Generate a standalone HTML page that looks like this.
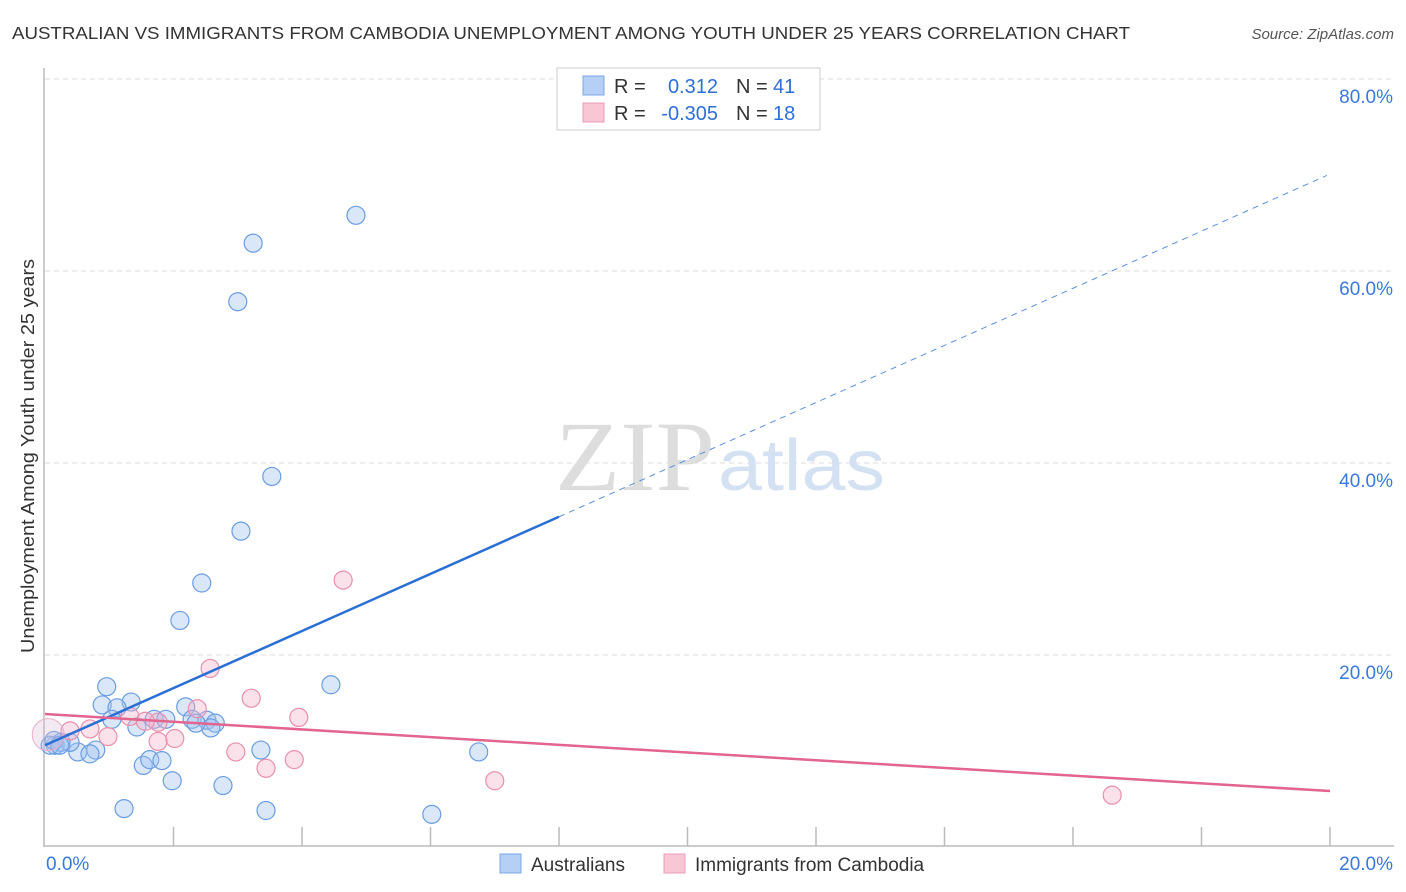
<!DOCTYPE html>
<html><head><meta charset="utf-8">
<style>
body{margin:0;background:#fff;font-family:"Liberation Sans",sans-serif;}
svg{display:block}
</style></head>
<body>
<svg id="chart" width="1406" height="892">
<text x="12" y="39" font-size="17.5" fill="#333" textLength="1118" lengthAdjust="spacingAndGlyphs">AUSTRALIAN VS IMMIGRANTS FROM CAMBODIA UNEMPLOYMENT AMONG YOUTH UNDER 25 YEARS CORRELATION CHART</text>
<text x="1394" y="39" font-size="15" fill="#555" font-style="italic" text-anchor="end">Source: ZipAtlas.com</text>
<g id="grid"></g>
<text x="715" y="490" font-size="100" font-family="Liberation Serif,serif" fill="#ddd" text-anchor="end" textLength="160" lengthAdjust="spacingAndGlyphs">ZIP</text>
<text x="718" y="490" font-size="72" fill="#d3e1f3" textLength="167" lengthAdjust="spacingAndGlyphs">atlas</text>
<g id="marks"></g>
<text transform="translate(34,456) rotate(-90)" font-size="18.5" fill="#333" text-anchor="middle" textLength="394" lengthAdjust="spacingAndGlyphs">Unemployment Among Youth under 25 years</text>
<g>
<rect x="557" y="68" width="263" height="62" fill="#fff" stroke="#ccc"/>
<rect x="583" y="76" width="21" height="19" fill="#b5cff5" stroke="#7aa7e6"/>
<rect x="583" y="103" width="21" height="19" fill="#f9c6d6" stroke="#ec9bb6"/>
<text x="614" y="93" font-size="20" fill="#333">R =</text>
<text x="718" y="93" font-size="20" fill="#2d6fd6" text-anchor="end">0.312</text>
<text x="736" y="93" font-size="20" fill="#333">N =</text>
<text x="773" y="93" font-size="20" fill="#2d6fd6">41</text>
<text x="614" y="120" font-size="20" fill="#333">R =</text>
<text x="718" y="120" font-size="20" fill="#2d6fd6" text-anchor="end">-0.305</text>
<text x="736" y="120" font-size="20" fill="#333">N =</text>
<text x="773" y="120" font-size="20" fill="#2d6fd6">18</text>
</g>
<g>
<rect x="500" y="854" width="21" height="19" fill="#b5cff5" stroke="#7aa7e6"/>
<text x="531" y="871" font-size="19" fill="#333">Australians</text>
<rect x="664" y="854" width="21" height="19" fill="#f9c6d6" stroke="#ec9bb6"/>
<text x="695" y="871" font-size="19" fill="#333">Immigrants from Cambodia</text>
</g>
</svg>
<script>
const yTicks=[20,40,60,80];
const yTickLabels=["20.0%","40.0%","60.0%","80.0%"];
const xTickLabels=["0.0%","20.0%"];
const ausX=[4.84,3.24,3.00,3.53,3.05,2.44,2.10,0.96,4.45,1.34,0.89,1.12,2.19,1.70,1.88,2.29,2.52,2.65,1.04,1.43,2.58,2.35,6.75,3.36,0.79,0.51,0.70,0.16,0.39,0.25,0.08,1.53,1.63,1.82,1.98,2.77,1.23,3.44,6.02,0.14,0.23];
const ausY=[65.8,62.9,56.8,38.6,32.9,27.5,23.6,16.7,16.9,15.1,14.8,14.5,14.6,13.3,13.3,13.3,13.2,12.9,13.3,12.5,12.4,12.9,9.9,10.1,10.1,9.9,9.7,10.6,10.9,10.9,10.6,8.5,9.1,9.0,6.9,6.4,4.0,3.8,3.4,11.1,10.6];
const camX=[4.64,2.57,3.21,2.37,3.95,1.32,1.76,1.56,0.70,0.39,0.98,2.02,1.76,2.97,3.88,3.44,7.00,16.61];
const camY=[27.8,18.6,15.5,14.4,13.5,13.6,13.0,13.1,12.3,12.1,11.5,11.3,11.0,9.9,9.1,8.2,6.9,5.4];
const ausLine=[10.6,2.975]; // intercept, slope
const camLine=[13.85,-0.401];
const X0=45,X1=1330,Y0=847,YPER=9.6;
function sx(v){return X0+(X1-X0)*v/20;}
function sy(v){return Y0-v*YPER;}
const NS="http://www.w3.org/2000/svg";
const grid=document.getElementById('grid'),marks=document.getElementById('marks');
function mk(tag,attrs,parent){const e=document.createElementNS(NS,tag);for(const k in attrs)e.setAttribute(k,attrs[k]);parent.appendChild(e);return e;}
yTicks.forEach((t,i)=>{
  const l=mk('line',{x1:45,x2:1394,y1:sy(t),y2:sy(t),stroke:'#ddd','stroke-dasharray':'5,4'},grid);
  
  
  const tx=mk('text',{x:1393,y:sy(t)+24,'font-size':19,fill:'#3b78d8','text-anchor':'end'},grid);
  tx.textContent=yTickLabels[i];
  
  
});
const ax=mk('line',{x1:44,x2:44,y1:68,y2:847,stroke:'#bbb','stroke-width':1.5},grid);


const bx=mk('line',{x1:44,x2:1394,y1:846,y2:846,stroke:'#bbb','stroke-width':1.5},grid);


for(let i=1;i<=10;i++){
  const t=mk('line',{x1:sx(i*2),x2:sx(i*2),y1:827,y2:846,stroke:'#bbb','stroke-width':1.5},grid);
  
  
}
[[0,'start',46],[20,'end',1393]].forEach((d,i)=>{
  const tx=mk('text',{x:d[2],y:870,'font-size':19,fill:'#3b78d8','text-anchor':d[1]},grid);
  tx.textContent=xTickLabels[i];
  
  
});
function dots(xs,ys,fill,stroke,name){
  xs.forEach((x,i)=>{
    const c=mk('circle',{cx:sx(x),cy:sy(ys[i]),r:9,fill:fill,stroke:stroke,'stroke-width':1.2},marks);
    
    
  });
}
dots(ausX,ausY,'rgba(160,195,240,0.4)','#6a9de0','australians-point');
dots(camX,camY,'rgba(245,180,200,0.4)','#e98fae','cambodia-point');
const big=mk('circle',{cx:sx(0.05),cy:sy(11.7),r:16,fill:'rgba(215,185,215,0.3)',stroke:'#eab0c8','stroke-width':1},marks);


const bl=mk('line',{x1:sx(0),y1:sy(ausLine[0]),x2:sx(8),y2:sy(ausLine[0]+8*ausLine[1]),stroke:'#2a6fd6','stroke-width':2.5},marks);


const bd=mk('line',{x1:sx(8),y1:sy(ausLine[0]+8*ausLine[1]),x2:sx(19.95),y2:sy(ausLine[0]+19.95*ausLine[1]),stroke:'#5b8fdc','stroke-width':1,'stroke-dasharray':'6,5'},marks);


const pl=mk('line',{x1:sx(0),y1:sy(camLine[0]),x2:sx(20),y2:sy(camLine[0]+20*camLine[1]),stroke:'#e2648f','stroke-width':2.5},marks);


</script>
</body></html>
